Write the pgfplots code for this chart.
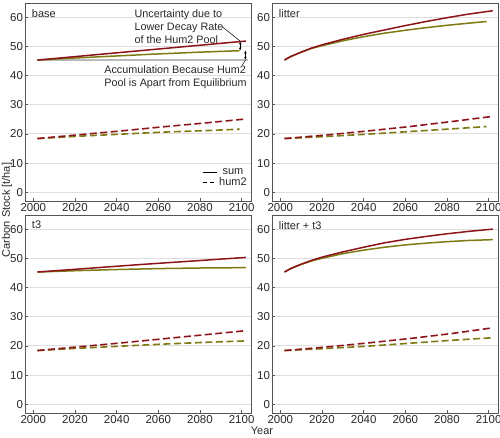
\documentclass[border=0pt]{standalone}
\usepackage{fontspec}
\setmainfont{Liberation Sans}
\usepackage{pgfplots}
\pgfplotsset{compat=1.18}
\usetikzlibrary{arrows.meta}

\definecolor{sumred}{RGB}{140,20,25}
\definecolor{sumolive}{RGB}{125,122,18}
\definecolor{framec}{RGB}{85,85,85}
\definecolor{gridc}{RGB}{222,222,222}
\definecolor{textc}{RGB}{40,40,40}

\pgfplotsset{
  panel/.style={
    scale only axis, width=226pt, height=197pt,
    xmin=1996, xmax=2104.5, ymin=-3, ymax=64.5,
    xtick={2000,2020,...,2100}, ytick={0,10,...,60},
    ymajorgrids, grid style={gridc, line width=0.8pt},
    axis line style={framec, line width=1pt},
    tick style={framec, line width=0.6pt}, major tick length=3pt,
    tick align=inside, xtick pos=lower, ytick pos=left,
    ticklabel style={font=\fontsize{11.5}{13}\selectfont, text=textc},
    /pgf/number format/assume math mode=true,
    /pgf/number format/1000 sep={},
    yticklabel style={xshift=1.5pt},
    xticklabel style={yshift=1pt},
  },
  sumline/.style={line width=1.5pt, forget plot},
  humline/.style={line width=1.6pt, dash pattern=on 7pt off 3.5pt, forget plot},
}

\newcommand{\panellabel}[1]{\node[anchor=north west, font=\fontsize{11}{12}\selectfont, text=textc, inner sep=0pt] at (rel axis cs:0.03,0.975) {#1};}

\begin{document}
\begin{tikzpicture}
\path[use as bounding box] (0pt,0pt) rectangle (500pt,-438pt);

% ---------------- base ----------------
\begin{axis}[panel, at={(25pt,-4pt)}, anchor=north west,
  legend style={at={(rel axis cs:0.995,0.055)}, anchor=south east, draw=none, fill=none,
    font=\fontsize{11}{11}\selectfont, text=textc, row sep=-2.5pt,
    inner sep=1pt},
  legend image code/.code={\draw[#1] (0pt,0pt) -- (14pt,0pt);}]
\addlegendimage{black, line width=0.9pt}
\addlegendentry{sum}
\addlegendimage{black, line width=0.9pt, dash pattern=on 4pt off 3pt}
\addlegendentry{hum2}
% equilibrium level
\addplot[gray!55, line width=1.5pt, forget plot] coordinates {(2002,45.3) (2103,45.3)};
\addplot[sumolive, sumline] coordinates {(2002,45.3) (2020,46.0) (2040,46.7) (2060,47.4) (2080,48.0) (2099,48.5)};
\addplot[sumred, sumline] coordinates {(2002,45.3) (2022,46.6) (2042,47.9) (2062,49.2) (2082,50.5) (2102,51.8)};
\addplot[sumolive, humline] coordinates {(2002,18.4) (2022,19.2) (2042,19.9) (2062,20.6) (2082,21.1) (2099,21.6)};
\addplot[sumred, humline] coordinates {(2002,18.4) (2022,19.7) (2042,21.0) (2062,22.4) (2082,23.7) (2102,25.1)};
\panellabel{base}
% annotations
\draw[black, line width=0.6pt, {Stealth[length=3pt,width=2.5pt]}-{Stealth[length=3pt,width=2.5pt]}] (axis cs:2099.3,48.6) -- (axis cs:2099.3,51.6);
\draw[black, line width=0.6pt, {Stealth[length=3pt,width=2.5pt]}-{Stealth[length=3pt,width=2.5pt]}] (axis cs:2101.8,45.4) -- (axis cs:2101.8,48.5);
\draw[black, line width=0.5pt] (axis cs:2090.5,56.8) -- (axis cs:2099.3,51.8);
\draw[black, line width=0.5pt] (axis cs:2100.3,43.6) -- (axis cs:2101.8,45.2);
\node[anchor=west, align=left, inner sep=0pt, font=\fontsize{10.8}{13}\selectfont, text=textc] at (axis cs:2048.5,56.6)
  {Uncertainty due to\\Lower Decay Rate\\of the Hum2 Pool};
\node[anchor=west, align=left, inner sep=0pt, font=\fontsize{10.8}{13}\selectfont, text=textc] at (axis cs:2034.0,39.4)
  {Accumulation Because Hum2\\Pool is Apart from Equilibrium};
\end{axis}

% ---------------- litter ----------------
\begin{axis}[panel, at={(272pt,-4pt)}, anchor=north west]
\addplot[sumolive, sumline] coordinates {(2002,45.3) (2005,46.5) (2010,48.0) (2015,49.3) (2020,50.2) (2030,51.9) (2040,53.3) (2050,54.5) (2060,55.5) (2070,56.4) (2080,57.2) (2090,57.9) (2099,58.5)};
\addplot[sumred, sumline] coordinates {(2002,45.3) (2005,46.5) (2010,48.0) (2015,49.4) (2020,50.5) (2030,52.4) (2040,54.1) (2050,55.6) (2060,57.1) (2070,58.5) (2080,59.8) (2090,61.0) (2102,62.2)};
\addplot[sumolive, humline] coordinates {(2002,18.4) (2022,19.1) (2042,19.9) (2062,20.8) (2082,21.7) (2099,22.5)};
\addplot[sumred, humline] coordinates {(2002,18.4) (2022,19.6) (2042,21.0) (2062,22.5) (2082,24.2) (2102,26.0)};
\panellabel{litter}
\end{axis}

% ---------------- t3 ----------------
\begin{axis}[panel, at={(25pt,-216pt)}, anchor=north west]
\addplot[sumolive, sumline] coordinates {(2002,45.3) (2022,45.8) (2042,46.2) (2062,46.5) (2082,46.7) (2102,46.8)};
\addplot[sumred, sumline] coordinates {(2002,45.3) (2027,46.6) (2052,47.9) (2077,49.1) (2102,50.3)};
\addplot[sumolive, humline] coordinates {(2002,18.4) (2022,19.2) (2042,19.9) (2062,20.6) (2082,21.2) (2102,21.7)};
\addplot[sumred, humline] coordinates {(2002,18.4) (2022,19.7) (2042,21.0) (2062,22.4) (2082,23.8) (2102,25.2)};
\panellabel{t3}
\end{axis}

% ---------------- litter + t3 ----------------
\begin{axis}[panel, at={(272pt,-216pt)}, anchor=north west]
\addplot[sumolive, sumline] coordinates {(2002,45.3) (2005,46.5) (2010,47.9) (2015,49.1) (2020,50.0) (2030,51.6) (2040,52.8) (2050,53.8) (2060,54.6) (2070,55.2) (2080,55.7) (2090,56.1) (2102,56.4)};
\addplot[sumred, sumline] coordinates {(2002,45.3) (2005,46.5) (2010,48.0) (2015,49.3) (2020,50.4) (2030,52.2) (2040,53.8) (2050,55.3) (2060,56.5) (2070,57.5) (2080,58.4) (2090,59.2) (2102,60.0)};
\addplot[sumolive, humline] coordinates {(2002,18.4) (2022,19.1) (2042,19.9) (2062,20.9) (2082,21.9) (2102,22.8)};
\addplot[sumred, humline] coordinates {(2002,18.4) (2022,19.6) (2042,21.0) (2062,22.5) (2082,24.2) (2102,26.2)};
\panellabel{litter + t3}
\end{axis}

% shared axis titles
\node[rotate=90, font=\fontsize{11}{12}\selectfont, text=textc] at (7pt,-210pt) {Carbon Stock [t/ha]};
\node[font=\fontsize{11}{12}\selectfont, text=textc] at (262pt,-431pt) {Year};
\end{tikzpicture}
\end{document}
